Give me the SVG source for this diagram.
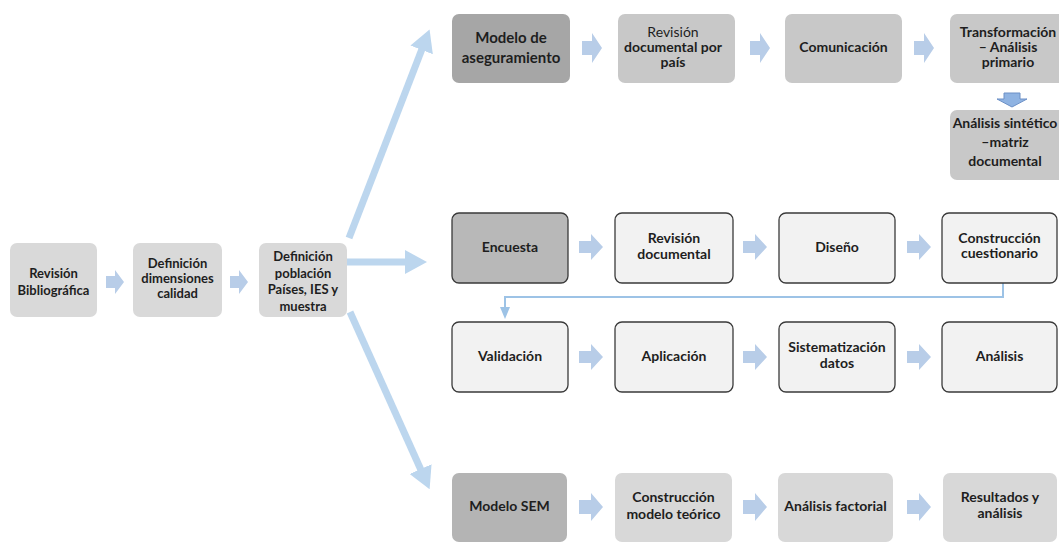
<svg xmlns="http://www.w3.org/2000/svg" width="1059" height="543" viewBox="0 0 1059 543">
  <defs>
    <style>
      .t { font-family: Lato, "Liberation Sans", Arial, sans-serif; font-weight: bold; font-size: 14px; fill: #1e1e1e; text-anchor: middle; }
      .t12 { font-size: 13px; }
      .t14 { font-size: 15px; }
      .reg { font-weight: normal; }
      .lite { fill: #d9d9d9; }
      .mid { fill: #c8c8c8; }
      .dark { fill: #a6a6a6; }
      .sem { fill: #b4b4b4; }
      .pale { fill: #d8d8d8; }
      .framed { fill: #f2f2f2; stroke: #3a3a3a; stroke-width: 1.3; }
      .framed-dark { fill: #b8b8b8; stroke: #3a3a3a; stroke-width: 1.3; }
      .chev { fill: #b8cde8; }
      .big { stroke: #bcd6ee; stroke-width: 7; fill: none; }
      .loop { stroke: #9dc3e6; stroke-width: 2; fill: none; }
    </style>
    <marker id="bighead" markerUnits="userSpaceOnUse" markerWidth="22" markerHeight="24" viewBox="0 0 22 24" refX="1" refY="12" orient="auto">
      <path d="M0,0 L22,12 L0,24 z" fill="#bcd6ee"/>
    </marker>
    <marker id="smallhead" markerUnits="userSpaceOnUse" markerWidth="12" markerHeight="10" viewBox="0 0 12 10" refX="1" refY="5" orient="auto">
      <path d="M0,0 L12,5 L0,10 z" fill="#9dc3e6"/>
    </marker>
  </defs>
  <rect width="1059" height="543" fill="#ffffff"/>

  <!-- connectors -->
  <g id="connectors">
    <!-- fan-out from Definición población -->
    <line class="big" x1="349" y1="238" x2="422" y2="49" marker-end="url(#bighead)"/>
    <line class="big" x1="347" y1="262" x2="406" y2="262" marker-end="url(#bighead)"/>
    <line class="big" x1="350" y1="312" x2="421" y2="470" marker-end="url(#bighead)"/>
    <!-- return line from Construcción cuestionario to Validación -->
    <polyline class="loop" points="1003,283 1003,297 505,297 505,308" marker-end="url(#smallhead)"/>

    <!-- block chevrons: left row -->
    <path class="chev" d="M106,276 h9 v-6 l9,12 l-9,12 v-6 h-9 z"/>
    <path class="chev" d="M230,276 h9 v-6 l9,12 l-9,12 v-6 h-9 z"/>
    <!-- top row -->
    <path class="chev" d="M582,41 h10 v-8 l10,15 l-10,15 v-8 h-10 z"/>
    <path class="chev" d="M750,41 h10 v-8 l10,15 l-10,15 v-8 h-10 z"/>
    <path class="chev" d="M914,41 h10 v-8 l10,15 l-10,15 v-8 h-10 z"/>
    <!-- down arrow to Análisis sintético -->
    <path d="M1004,93 h16 v6 h7 l-15,8 l-15,-8 h7 z" fill="#8fb3e2" stroke="#6c90c6" stroke-width="1"/>
    <!-- survey row 1 -->
    <path class="chev" d="M579,241 h12 v-7 l12,13 l-12,13 v-7 h-12 z"/>
    <path class="chev" d="M743,241 h12 v-7 l12,13 l-12,13 v-7 h-12 z"/>
    <path class="chev" d="M907,241 h12 v-7 l12,13 l-12,13 v-7 h-12 z"/>
    <!-- survey row 2 -->
    <path class="chev" d="M579,351 h12 v-7 l12,13 l-12,13 v-7 h-12 z"/>
    <path class="chev" d="M743,351 h12 v-7 l12,13 l-12,13 v-7 h-12 z"/>
    <path class="chev" d="M907,351 h12 v-7 l12,13 l-12,13 v-7 h-12 z"/>
    <!-- SEM row -->
    <path class="chev" d="M579,500 h12 v-7 l12,14 l-12,14 v-7 h-12 z"/>
    <path class="chev" d="M743,500 h12 v-7 l12,14 l-12,14 v-7 h-12 z"/>
    <path class="chev" d="M907,500 h12 v-7 l12,14 l-12,14 v-7 h-12 z"/>
  </g>

  <!-- left stage -->
  <g id="revision-bibliografica">
    <rect class="lite" x="10" y="243" width="87" height="74" rx="7"/>
    <text class="t t12" x="53.5" y="278">Revisión<tspan x="53.5" dy="17">Bibliográfica</tspan></text>
  </g>
  <g id="definicion-dimensiones">
    <rect class="lite" x="133" y="243" width="89" height="74" rx="7"/>
    <text class="t t12" x="177.5" y="268">Definición<tspan x="177.5" dy="15">dimensiones</tspan><tspan x="177.5" dy="15">calidad</tspan></text>
  </g>
  <g id="definicion-poblacion">
    <rect class="lite" x="259" y="243" width="88" height="74" rx="7"/>
    <text class="t t12" x="303" y="261">Definición<tspan x="303" dy="16.5">población</tspan><tspan x="303" dy="16.5">Países, IES y</tspan><tspan x="303" dy="16.5">muestra</tspan></text>
  </g>

  <!-- assurance model branch -->
  <g id="modelo-aseguramiento">
    <rect class="dark" x="452" y="14" width="118" height="69" rx="7"/>
    <text class="t t14" x="511" y="43">Modelo de<tspan x="511" dy="20">aseguramiento</tspan></text>
  </g>
  <g id="revision-documental-pais">
    <rect class="mid" x="618" y="14" width="117" height="69" rx="7"/>
    <text class="t" x="673" y="37"><tspan class="reg">Revisión</tspan><tspan x="673" dy="15">documental por</tspan><tspan x="673" dy="15">país</tspan></text>
  </g>
  <g id="comunicacion">
    <rect class="mid" x="785" y="14" width="117" height="69" rx="7"/>
    <text class="t" x="843.5" y="52">Comunicación</text>
  </g>
  <g id="transformacion">
    <rect class="mid" x="950" y="14" width="116" height="69" rx="7"/>
    <text class="t" x="1008" y="37">Transformación<tspan x="1008" dy="15">– Análisis</tspan><tspan x="1008" dy="15">primario</tspan></text>
  </g>
  <g id="analisis-sintetico">
    <rect class="mid" x="950" y="110" width="116" height="70" rx="7"/>
    <text class="t" x="1005" y="128">Análisis sintético<tspan x="1005" dy="19">–matriz</tspan><tspan x="1005" dy="19">documental</tspan></text>
  </g>

  <!-- survey branch -->
  <g id="encuesta">
    <rect class="framed-dark" x="452" y="213" width="116" height="70" rx="7"/>
    <text class="t" x="510" y="252">Encuesta</text>
  </g>
  <g id="revision-documental">
    <rect class="framed" x="615" y="213" width="118" height="70" rx="7"/>
    <text class="t" x="674" y="243">Revisión<tspan x="674" dy="16">documental</tspan></text>
  </g>
  <g id="diseno">
    <rect class="framed" x="779" y="213" width="116" height="70" rx="7"/>
    <text class="t" x="837" y="252">Diseño</text>
  </g>
  <g id="construccion-cuestionario">
    <rect class="framed" x="942" y="213" width="115" height="70" rx="7"/>
    <text class="t" x="999.5" y="243">Construcción<tspan x="999.5" dy="15">cuestionario</tspan></text>
  </g>
  <g id="validacion">
    <rect class="framed" x="452" y="322" width="116" height="70" rx="7"/>
    <text class="t" x="510" y="361">Validación</text>
  </g>
  <g id="aplicacion">
    <rect class="framed" x="615" y="322" width="118" height="70" rx="7"/>
    <text class="t" x="674" y="361">Aplicación</text>
  </g>
  <g id="sistematizacion">
    <rect class="framed" x="779" y="322" width="116" height="70" rx="7"/>
    <text class="t" x="837" y="352">Sistematización<tspan x="837" dy="16">datos</tspan></text>
  </g>
  <g id="analisis">
    <rect class="framed" x="942" y="322" width="115" height="70" rx="7"/>
    <text class="t" x="999.5" y="361">Análisis</text>
  </g>

  <!-- SEM branch -->
  <g id="modelo-sem">
    <rect class="sem" x="452" y="473" width="115" height="69" rx="7"/>
    <text class="t" x="509.5" y="511">Modelo SEM</text>
  </g>
  <g id="construccion-modelo">
    <rect class="pale" x="615" y="473" width="117" height="69" rx="7"/>
    <text class="t" x="673.5" y="502">Construcción<tspan x="673.5" dy="17">modelo teórico</tspan></text>
  </g>
  <g id="analisis-factorial">
    <rect class="pale" x="778" y="473" width="115" height="69" rx="7"/>
    <text class="t" x="835.5" y="511">Análisis factorial</text>
  </g>
  <g id="resultados">
    <rect class="pale" x="943" y="473" width="114" height="69" rx="7"/>
    <text class="t" x="1000" y="502">Resultados y<tspan x="1000" dy="16">análisis</tspan></text>
  </g>
</svg>
